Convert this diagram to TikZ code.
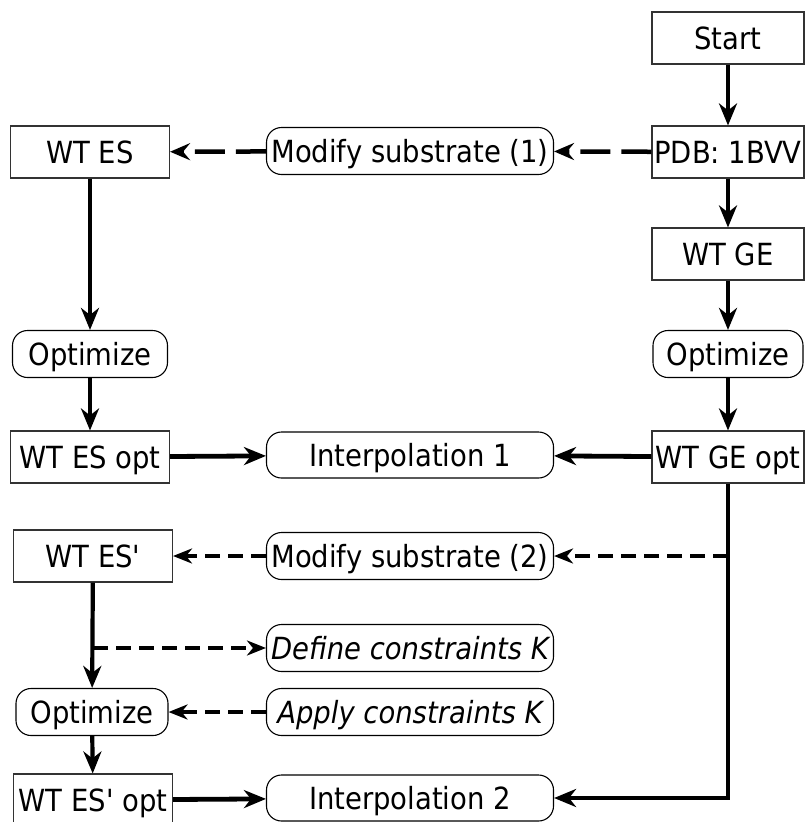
\documentclass[tikz,border=0pt]{standalone}
\usepackage{fontspec}
\setmainfont{DejaVu Sans Condensed}[Ligatures=TeXOff]
\usetikzlibrary{arrows.meta,calc}
\begin{document}
\begin{tikzpicture}[x=1pt,y=-1pt,
  every node/.style={font=\fontsize{30.5}{34}\selectfont, inner sep=0pt, text height=22pt, text depth=0pt},
  sq/.style={draw=black!80, line width=1.1pt, fill=white, minimum width=159pt, minimum height=52pt},
  rnd/.style={draw=black, line width=1.1pt, fill=white, rounded corners=15pt, minimum height=47pt},
  mid/.style={rnd, minimum width=287pt},
  big/.style={line width=4.2pt, -{Stealth[length=22pt,width=18pt,inset=7pt]}},
  bigdash/.style={line width=4.5pt, dash pattern=on 30pt off 11pt, -{Stealth[length=20pt,width=17pt,inset=7pt]}},
  smalldash/.style={line width=3.2pt, dash pattern=on 15pt off 8pt, -{Stealth[length=19pt,width=15pt,inset=6pt]}}
]
\useasboundingbox (0,0) rectangle (804,822);
% right column
\node[sq, minimum width=152pt] (start) at (728,38) {Start};
\node[sq, minimum width=152pt] (pdb) at (728,152) {PDB: 1BVV};
\node[sq, minimum width=152pt] (wtge) at (728,254) {WT GE};
\node[rnd, minimum width=150pt] (optR) at (728,354) {Optimize};
\node[sq, minimum width=152pt] (wtgeopt) at (728,457) {WT GE opt};
% left column
\node[sq] (wtes) at (90,152) {WT ES};
\node[rnd, minimum width=155pt] (optL) at (90,354) {Optimize};
\node[sq] (wtesopt) at (90,457) {WT ES opt};
\node[sq] (wtesp) at (93,556) {WT ES'};
\node[rnd, minimum width=152pt] (optL2) at (92,712) {Optimize};
\node[sq] (wtespopt) at (93,800) {WT ES' opt};
% middle column
\node[mid] (mod1) at (410,151) {Modify substrate (1)};
\node[mid, minimum height=46pt] (interp1) at (410,455) {Interpolation 1};
\node[mid] (mod2) at (410,556) {Modify substrate (2)};
\node[mid] (def) at (410,648) {\itshape Define constraints K};
\node[mid] (apply) at (410,712) {\itshape Apply constraints K};
\node[mid, minimum height=46pt] (interp2) at (410,798) {Interpolation 2};
% connectors
\draw[big] (start) -- (pdb);
\draw[big] (pdb) -- (wtge);
\draw[big] (wtge) -- (optR);
\draw[big] (optR) -- (wtgeopt);
\draw[bigdash] (pdb) -- (mod1);
\draw[bigdash] (mod1) -- (wtes);
\draw[big] (wtes) -- (optL);
\draw[big] (optL) -- (wtesopt);
\draw[big, line width=4.8pt] (wtesopt) -- (interp1);
\draw[big, line width=4.8pt] (wtgeopt) -- (interp1);
\coordinate (br1) at (wtgeopt.south |- mod2);
\draw[big, line width=4.8pt] (wtgeopt.south) |- (interp2.east);
\draw[smalldash] (br1) -- (mod2);
\draw[smalldash] (mod2) -- (wtesp);
\draw[big] (wtesp) -- (optL2);
\coordinate (br2) at (wtesp.south |- def);
\draw[smalldash] (br2) -- (def);
\draw[smalldash] (apply) -- (optL2);
\draw[big] (optL2) -- (wtespopt);
\draw[big, line width=4.8pt] (wtespopt) -- (interp2);
\end{tikzpicture}
\end{document}
